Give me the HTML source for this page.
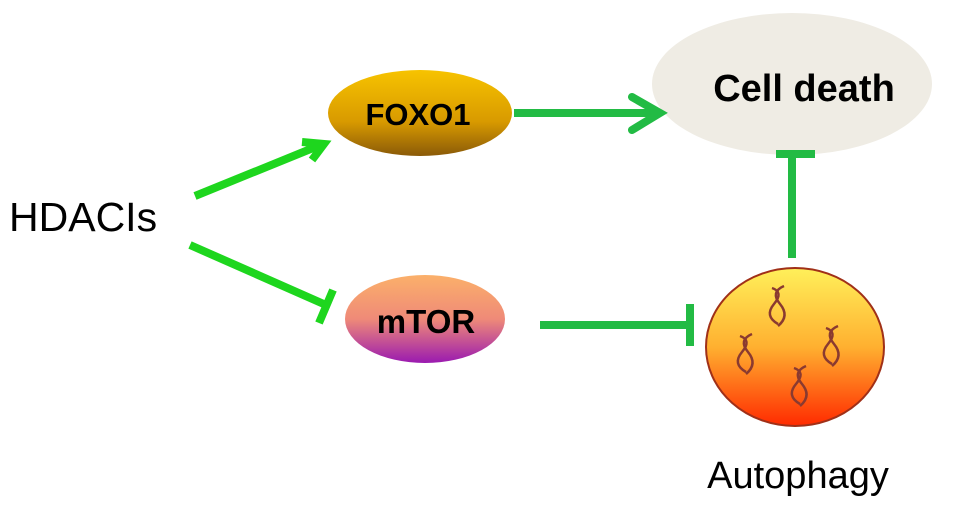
<!DOCTYPE html>
<html><head><style>body{margin:0;background:#fff}svg{display:block}</style></head><body>
<svg width="969" height="510" viewBox="0 0 969 510" xmlns="http://www.w3.org/2000/svg">
<defs>
<linearGradient id="fx" x1="0" y1="0" x2="0" y2="1"><stop offset="0" stop-color="#f7c300"/><stop offset="0.6" stop-color="#d89a00"/><stop offset="1" stop-color="#8a5a08"/></linearGradient>
<linearGradient id="mt" x1="0" y1="0" x2="0" y2="1"><stop offset="0" stop-color="#fbb06a"/><stop offset="0.5" stop-color="#ef8a78"/><stop offset="1" stop-color="#9a1ab0"/></linearGradient>
<linearGradient id="au" x1="0" y1="0" x2="0" y2="1"><stop offset="0" stop-color="#fff05a"/><stop offset="0.5" stop-color="#ffb030"/><stop offset="1" stop-color="#ff2a00"/></linearGradient>
</defs>
<ellipse cx="792" cy="84" rx="140" ry="71" fill="#efece4"/>
<text x="804" y="101" font-family="Liberation Sans, sans-serif" font-weight="bold" font-size="38" text-anchor="middle">Cell death</text>
<ellipse cx="420" cy="113" rx="92" ry="43" fill="url(#fx)"/>
<text x="418" y="125" font-family="Liberation Sans, sans-serif" font-weight="bold" font-size="31" text-anchor="middle">FOXO1</text>
<ellipse cx="425" cy="319" rx="80" ry="44" fill="url(#mt)"/>
<text x="426" y="333" font-family="Liberation Sans, sans-serif" font-weight="bold" font-size="33" text-anchor="middle">mTOR</text>
<ellipse cx="795" cy="347" rx="89" ry="79" fill="url(#au)" stroke="#a03018" stroke-width="2"/>
<g fill="none" stroke="#8a3a30" stroke-width="2.5">
<path d="M772 288 q12 4 2 16 q-10 12 4 20"/><path d="M784 286 q-14 6 -4 18 q10 12 -2 22"/>
<path d="M740 336 q12 4 2 16 q-10 12 4 20"/><path d="M752 334 q-14 6 -4 18 q10 12 -2 22"/>
<path d="M826 328 q12 4 2 16 q-10 12 4 20"/><path d="M838 326 q-14 6 -4 18 q10 12 -2 22"/>
<path d="M794 368 q12 4 2 16 q-10 12 4 20"/><path d="M806 366 q-14 6 -4 18 q10 12 -2 22"/>
</g>
<text x="9" y="231" font-family="Liberation Sans, sans-serif" font-size="41">HDACIs</text>
<text x="798" y="488" font-family="Liberation Sans, sans-serif" font-size="38" text-anchor="middle">Autophagy</text>
<g stroke="#1ed61e" stroke-width="8" fill="none" stroke-linecap="butt">
<line x1="195" y1="196" x2="318" y2="146"/>
<path d="M302 142 L324 144 L312 160" stroke-linejoin="miter"/>
<line x1="190" y1="245" x2="326" y2="305"/>
<line x1="333" y1="290" x2="319" y2="323"/>
</g>
<g stroke="#22bb44" stroke-width="8" fill="none">
<line x1="514" y1="113" x2="660" y2="113"/>
<path d="M632 97 L660 113 L632 130" stroke-linecap="round"/>
<line x1="540" y1="325" x2="690" y2="325"/>
<line x1="690" y1="304" x2="690" y2="346"/>
<line x1="792" y1="258" x2="792" y2="155"/>
<line x1="776" y1="154" x2="815" y2="154"/>
</g>
</svg>
</body></html>
